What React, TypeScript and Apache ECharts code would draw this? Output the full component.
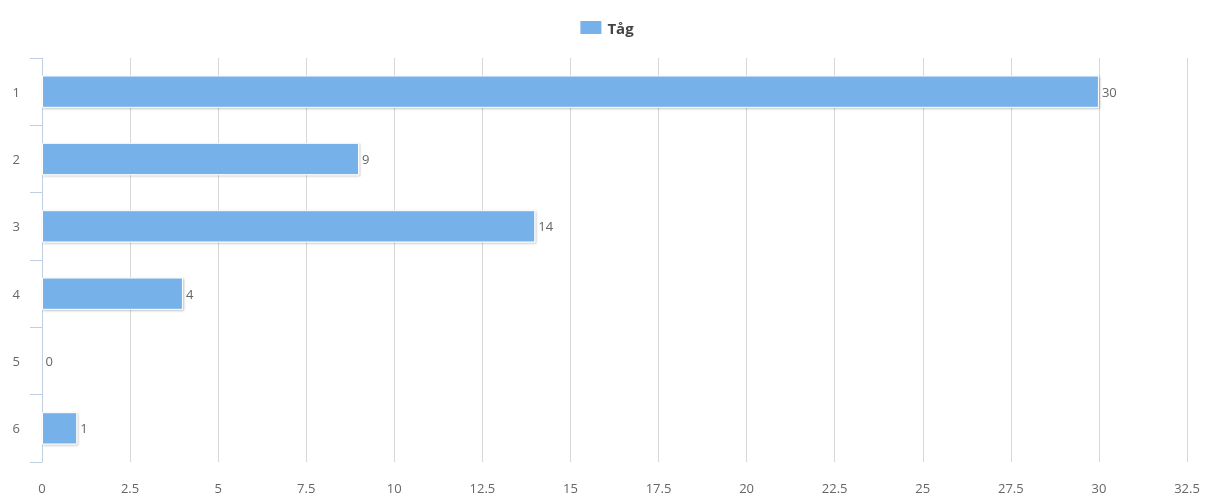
import React, { useEffect, useRef } from "react";
import * as echarts from "echarts";

const categories = ["1", "2", "3", "4", "5", "6"];
const seriesName = "Tåg";
const values = [30, 9, 14, 4, 0, 1];

export default function App() {
  const ref = useRef<HTMLDivElement>(null);
  useEffect(() => {
    if (!ref.current) return;
    const chart = echarts.init(ref.current, undefined, { renderer: "svg" });
    chart.setOption({
      animation: false,
      textStyle: { fontFamily: "Open Sans, DejaVu Sans, sans-serif" },
      legend: {
        top: 14,
        left: "center",
        itemWidth: 23,
        itemHeight: 15,
        itemGap: 10,
        icon: "rect",
        textStyle: { fontSize: 15, fontWeight: "bold", color: "#444" },
        data: [seriesName],
      },
      grid: { left: 42, right: 25, top: 58, bottom: 39, containLabel: false },
      xAxis: {
        type: "value",
        min: 0,
        max: 32.5,
        interval: 2.5,
        axisLine: { show: false },
        axisTick: { show: false },
        axisLabel: { color: "#666", fontSize: 13, margin: 19 },
        splitLine: { show: true, lineStyle: { color: "#d8d8d8", width: 1 } },
      },
      yAxis: {
        type: "category",
        inverse: true,
        data: categories,
        axisLine: { show: true, lineStyle: { color: "#c0d0e0" } },
        axisTick: { show: true, length: 12, lineStyle: { color: "#c0d0e0" } },
        axisLabel: { color: "#666", fontSize: 13, margin: 22 },
        splitLine: { show: false },
      },
      series: [
        {
          name: seriesName,
          type: "bar",
          data: values,
          barWidth: "48%",
          itemStyle: {
            color: "#76b1ea",
            borderColor: "#ffffff",
            borderWidth: 1,
            shadowColor: "rgba(0,0,0,0.25)",
            shadowBlur: 2,
            shadowOffsetX: 1,
            shadowOffsetY: 1,
          },
          label: {
            show: true,
            position: "right",
            distance: 3,
            color: "#666",
            fontSize: 13,
          },
        },
      ],
    });
    return () => chart.dispose();
  }, []);
  return (
    <div
      ref={ref}
      style={{ position: "fixed", top: 0, left: 0, width: 1212, height: 501 }}
    />
  );
}
